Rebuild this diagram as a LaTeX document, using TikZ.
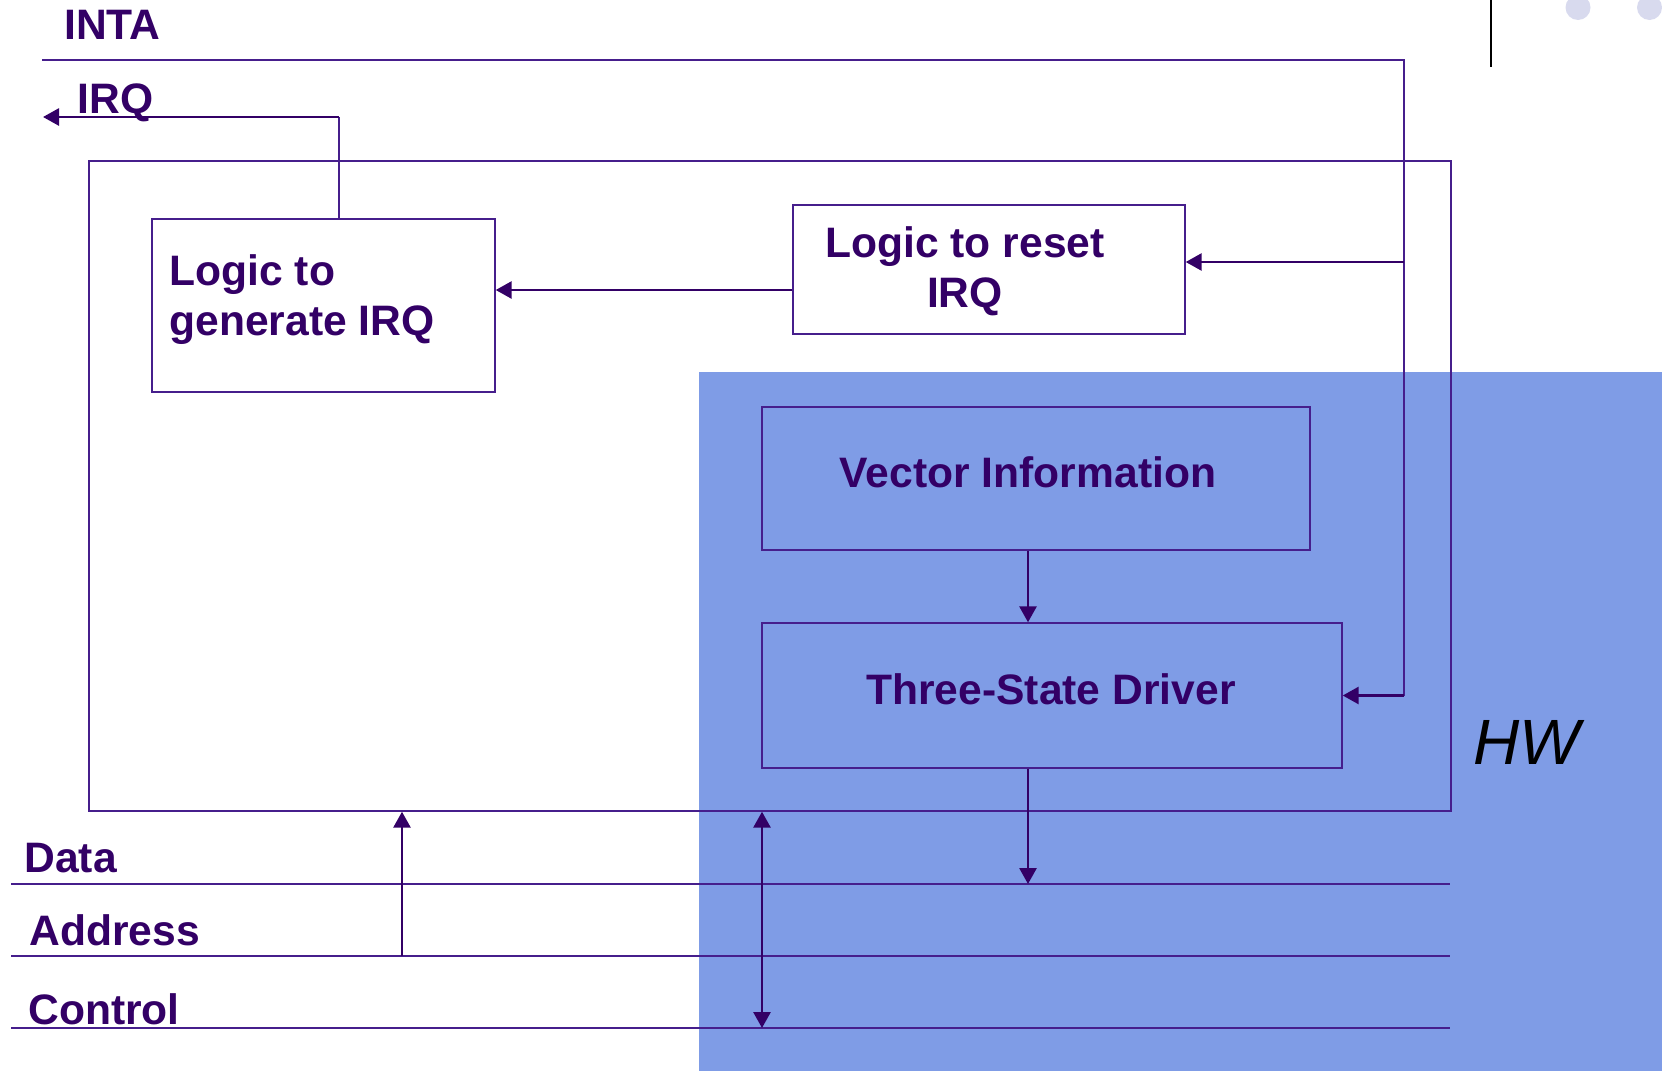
\documentclass[tikz,border=0pt]{standalone}
\usepackage{fontspec}
\setmainfont{Liberation Sans}
\usetikzlibrary{positioning}
\usetikzlibrary{arrows.meta}
\definecolor{ink}{RGB}{51,0,102}
\definecolor{wirecol}{RGB}{70,30,140}
\definecolor{hwblue}{RGB}{127,156,230}
\definecolor{dotgrey}{RGB}{216,218,238}

\begin{document}
\begin{tikzpicture}[x=0.5pt, y=-0.5pt,
  >={Triangle[length=8pt,width=8.5pt]},
  frame/.style={draw=wirecol, line width=0.7pt, rectangle, inner sep=0pt},
  lbl/.style={text=ink, font=\fontsize{21.3}{25}\selectfont\bfseries, inner sep=0pt},
  thinline/.style={draw=wirecol, line width=0.7pt},
  sig/.style={draw=ink, line width=1.4pt}]

  \useasboundingbox (0,0) rectangle (1662,1071);

  % hardware area
  \fill[hwblue] (699,372) rectangle (1662,1071);
  \node[lbl, text=black, font=\fontsize{32}{38}\selectfont\itshape, anchor=base west] (hw) at (1473,764) {HW};

  % slide decoration
  \draw[black, line width=1pt] (1491,0) -- (1491,67);
  \fill[dotgrey] (1578,7.5) circle (12.5) (1649.5,7.5) circle (12.5);

  % boxes
  \node[frame, minimum width=681pt, minimum height=325pt] (dev) at (770,486) {};
  \node[frame, minimum width=171.5pt, minimum height=86.5pt] (gen) at (323.5,305.5) {};
  \node[frame, minimum width=196pt, minimum height=64.5pt] (rst) at (989,269.5) {};
  \node[frame, minimum width=274pt, minimum height=71.5pt] (vec) at (1036,478.5) {};
  \node[frame, minimum width=290pt, minimum height=72.5pt] (drv) at (1052,695.5) {};

  \node[lbl, align=left, anchor=north west] (gentxt) at (169,254) {Logic to\\generate IRQ};
  \node[lbl, align=center, anchor=north] (rsttxt) at (965,226) {Logic to reset\\IRQ};
  \node[lbl, anchor=base] (vectxt) at (1028,487) {Vector Information};
  \node[lbl, anchor=base] (drvtxt) at (1051,704) {Three-State Driver};

  % INTA in, IRQ out
  \node[lbl, anchor=base west] (inta) at (64,39) {INTA};
  \node[lbl, anchor=base west] (irq) at (77,113) {IRQ};
  \coordinate (intaL) at (42,60);
  \coordinate (intaR) at (1404,60);
  \coordinate (rstin) at (1404,262);
  \draw[thinline] (intaL) -- (intaR) -- (intaR |- drv.east);
  \draw[sig,->] (intaR |- drv.east) -- (drv.east);
  \draw[sig,->] (rstin) -- (rst.east |- rstin);

  \coordinate (link) at (640,290);
  \draw[sig,->] (rst.west |- link) -- (gen.east |- link);

  \coordinate (irqbend) at (339,117);
  \coordinate (irqout) at (43,117);
  \draw[thinline] (gen.north -| irqbend) -- (irqbend);
  \draw[sig,->] (irqbend) -- (irqout);

  % system bus
  \foreach \lbl/\y/\b/\x in {Data/884/872/24, Address/956/945/29, Control/1028/1024/28} {
    \coordinate (\lbl-l) at (11,\y);
    \coordinate (\lbl-r) at (1450,\y);
    \draw[thinline] (\lbl-l) -- (\lbl-r);
    \node[lbl, anchor=base west] (\lbl) at (\x,\b) {\lbl};
  }

  \coordinate (vbus) at (1028,0);
  \coordinate (abus) at (402,0);
  \coordinate (cbus) at (762,0);
  \draw[sig,->] (vec.south -| vbus) -- (drv.north -| vbus);
  \draw[sig,->] (drv.south -| vbus) -- (vbus |- Data-l);
  \draw[sig,->] (abus |- Address-l) -- (dev.south -| abus);
  \draw[sig,<->] (dev.south -| cbus) -- (cbus |- Control-l);
\end{tikzpicture}
\end{document}
